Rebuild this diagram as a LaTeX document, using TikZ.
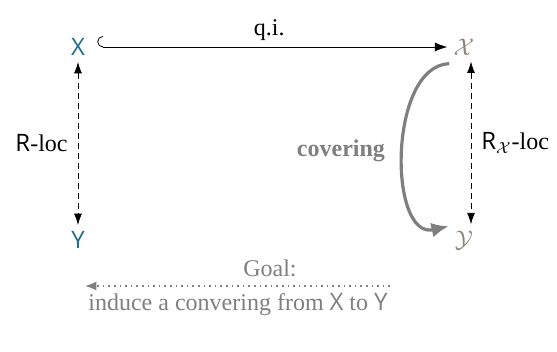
\documentclass[tikz,border=0pt]{standalone}
\usepackage{amsmath,amssymb}
\usepackage{fontspec}
\setmainfont{Liberation Serif}
\setsansfont{Open Sans}
\usepackage{xcolor}
\usepackage{tikz}
\usetikzlibrary{arrows.meta,positioning,calc}

\definecolor{spacecol}{HTML}{1F6E8C}
\definecolor{stackcol}{HTML}{8C8478}
\definecolor{covcol}{HTML}{7F7F7F}

\begin{document}
\begin{tikzpicture}[
  x=0.5pt,y=-0.5pt,
  obj/.style={inner sep=1pt,font=\large},
  lbl/.style={inner sep=1pt,font=\large\rmfamily},
  arr/.style={-{Latex[length=2.2mm,width=1.6mm]},thin},
  darr/.style={{Latex[length=2mm,width=1.4mm]}-{Latex[length=2mm,width=1.4mm]},dash pattern=on 3pt off 2pt,thin}
]
\useasboundingbox (0,0) rectangle (557,352);
\node[obj,text=spacecol] (X) at (78,47) {\textsf{X}};
\node[obj,text=stackcol] (cX) at (464,47) {$\mathcal{X}$};
\node[obj,text=spacecol] (Y) at (78,240) {\textsf{Y}};
\node[obj,text=stackcol] (cY) at (464,240) {$\mathcal{Y}$};
\draw[arr,{Hooks[right,length=1mm]}-{Latex[length=2.2mm,width=1.6mm]},shorten <=5pt,shorten >=2pt] (X) -- node[lbl,above=2pt] {q.i.} (cX);
\coordinate (xs) at ($(X.south)+(0,4)$);
\coordinate (yn) at ($(Y.north)+(0,-4)$);
\draw[darr] (xs) -- node[lbl,left=4pt] {\textsf{R}-loc} (yn);
\coordinate (cxs) at ($(cX.south)+(7,4)$);
\coordinate (cyn) at ($(cY.north)+(7,-4)$);
\draw[darr] (cxs) -- node[lbl,right=4pt] {\textsf{R}$_{\mathcal{X}}$-loc} (cyn);
\draw[covcol,line width=1.6pt,-{Latex[length=3mm,width=2.6mm]}]
  ($(cX.south west)+(-2,6)$) .. controls (388,66) and (388,240) .. ($(cY.north west)+(-4,-2)$)
  node[pos=0.5,left=5pt,text=covcol,font=\large\bfseries] (cov) {covering};
\node[lbl,text=covcol] (goal) at (270,268) {Goal:};
\node[lbl,text=covcol] (goalb) at (238,305) {induce a convering from \textsf{X} to \textsf{Y}};
\coordinate (gl) at (85,286);
\coordinate (gr) at (390,286);
\draw[covcol,thick,dotted,-{Latex[length=2mm,width=1.6mm]}] (gr) -- (gl);
\end{tikzpicture}
\end{document}
